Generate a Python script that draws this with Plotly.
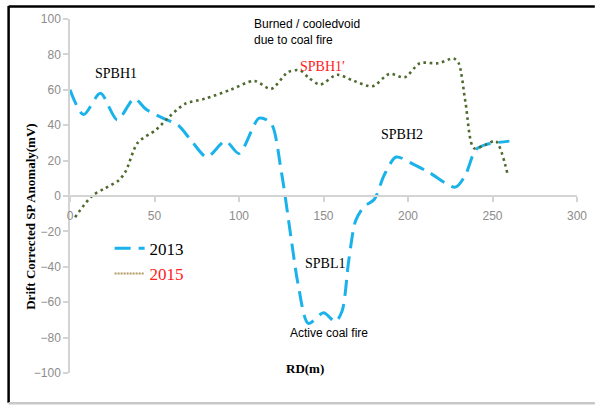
import plotly.graph_objects as go

# ---- data ----
rd_2013 = [0, 8, 18, 28, 38, 45, 55, 64, 72, 81, 92, 100, 112, 119, 125, 131, 135, 141, 150, 157, 161, 165, 169, 174, 180, 186, 193, 203, 213, 228, 234, 240, 246, 260]
sp_2013 = [60, 46, 58, 43, 55, 49, 44, 40, 31, 22, 31, 24, 44, 41, 14, -25, -50, -72, -66, -71, -65, -36, -14, -6, -2, 12, 22, 18, 13, 5, 12, 26, 29, 31]

rd_2015 = [3, 13, 20, 29, 33, 40, 51, 59, 68, 80, 95, 109, 119, 129, 136, 141, 148, 158, 168, 179, 189, 198, 207, 218, 227, 230, 234, 239, 246, 252, 259]
sp_2015 = [-12, 0, 4, 9, 14, 30, 37.5, 45, 52, 55, 60, 65, 60.5, 70, 71, 67, 63, 68.5, 65, 62, 69, 67, 75, 75, 77.7, 75, 53, 27, 29, 31, 12]

x_ticks = [0, 50, 100, 150, 200, 250, 300]
y_ticks = [-100, -80, -60, -40, -20, 0, 20, 40, 60, 80, 100]

SERIF = "Liberation Serif, Times New Roman, serif"
SANS = "Liberation Sans, Arial, sans-serif"

fig = go.Figure()
fig.add_trace(go.Scatter(
    x=rd_2013, y=sp_2013, mode="lines", name="2013",
    line=dict(color="#1ab2ea", width=3, dash="16px,8px", shape="spline", smoothing=0.8),
))
fig.add_trace(go.Scatter(
    x=rd_2015, y=sp_2015, mode="lines", name="2015", showlegend=False, legendgroup="y2015",
    line=dict(color="#4f6a2e", width=2.6, dash="2.6px,3.6px", shape="spline", smoothing=0.8),
))
# legend entry for 2015 (legend sample drawn thin and tan, as in the reference)
fig.add_trace(go.Scatter(
    x=[None], y=[None], mode="lines", name='<span style="color:#ff2020">2015</span>',
    legendgroup="y2015", hoverinfo="skip",
    line=dict(color="#b09a60", width=2, dash="2px,1px"),
))

L, R, T, B = 70, 17, 17, 33
W, H = 599, 406
pw, ph = W - L - R, H - T - B

def px(xp):
    return (xp - L) / pw

def py(yp):
    return (H - B - yp) / ph

annotations = [
    dict(x=27, y=69, text="SPBH1", font=dict(family=SERIF, size=14, color="black")),
    dict(x=149.5, y=73, text="SPBH1\u2032", font=dict(family=SERIF, size=14, color="#ff2020")),
    dict(x=196.3, y=35, text="SPBH2", font=dict(family=SERIF, size=14, color="black")),
    dict(x=151, y=-38, text="SPBL1", font=dict(family=SERIF, size=14, color="black")),
    dict(x=107.5, y=92.4, text="Burned / cooledvoid<br>due to coal fire", xanchor="left",
         align="left", font=dict(family=SANS, size=12, color="black")),
    dict(x=153.5, y=-77.5, text="Active coal fire", font=dict(family=SANS, size=12, color="black")),
    dict(x=138.9, y=-97.2, text="<b>RD(m)</b>", font=dict(family=SERIF, size=13, color="black")),
    dict(xref="paper", yref="paper", x=px(30), y=py(215.5), text="<b>Drift Corrected SP Anomaly(mV)</b>",
         textangle=-90, font=dict(family=SERIF, size=13, color="black")),
]
for a in annotations:
    a.setdefault("xref", "x")
    a.setdefault("yref", "y")
    a.setdefault("showarrow", False)
    a.setdefault("xanchor", "center")
    a.setdefault("yanchor", "middle")

shapes = [
    dict(type="line", xref="paper", yref="paper", x0=px(8), x1=px(600), y0=py(4.5), y1=py(4.5),
         line=dict(color="black", width=2.5)),
    dict(type="line", xref="paper", yref="paper", x0=px(8), x1=px(8), y0=py(4), y1=py(403),
         line=dict(color="black", width=2.5)),
    dict(type="line", xref="paper", yref="paper", x0=px(8), x1=px(600), y0=py(403.5), y1=py(403.5),
         line=dict(color="#c8c8c8", width=2.5)),
]

fig.update_layout(
    width=W, height=H,
    margin=dict(l=L, r=R, t=T, b=B),
    paper_bgcolor="white", plot_bgcolor="white",
    showlegend=True,
    legend=dict(x=px(110), y=py(230), xanchor="left", yanchor="top",
                bgcolor="rgba(0,0,0,0)", font=dict(family=SERIF, size=17, color="black"),
                itemwidth=30, tracegroupgap=0),
    annotations=annotations,
    shapes=shapes,
    xaxis=dict(range=[0, 300], tickvals=x_ticks, anchor="free", position=0.5,
               showline=True, linecolor="#d4d4d4", linewidth=1.5,
               ticks="outside", ticklen=5, tickcolor="#d4d4d4", tickwidth=1.5,
               showgrid=False, zeroline=False,
               tickfont=dict(family=SANS, size=12, color="#8c8c8c"), ticklabelstandoff=4),
    yaxis=dict(range=[-100, 100], tickvals=y_ticks,
               showline=True, linecolor="#d4d4d4", linewidth=1.5,
               ticks="outside", ticklen=5, tickcolor="#d4d4d4", tickwidth=1.5,
               showgrid=False, zeroline=False,
               tickfont=dict(family=SANS, size=12, color="#8c8c8c")),
)

fig.write_html("out.html", config={"displayModeBar": False},
               post_script="document.body.style.margin='0px';")
